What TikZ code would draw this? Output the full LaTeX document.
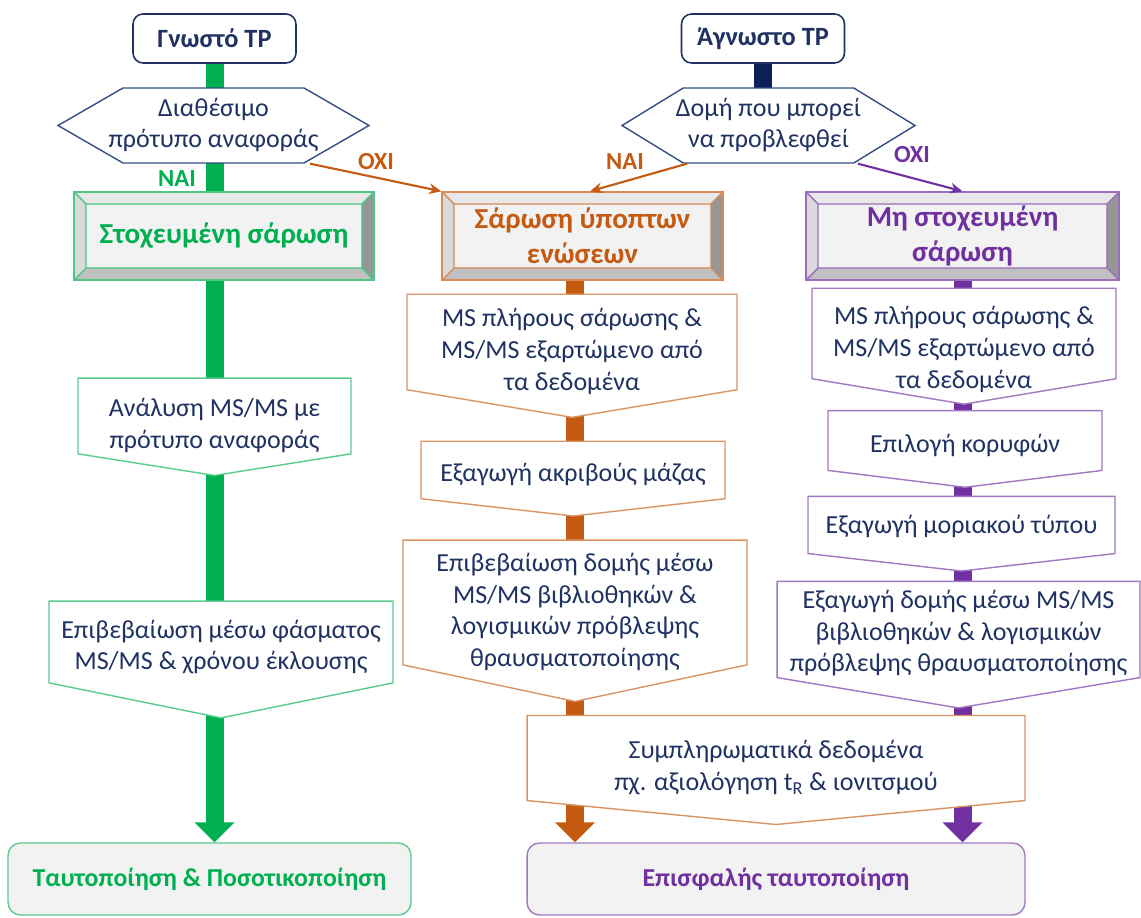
\documentclass[tikz,border=0pt]{standalone}
\usepackage{fontspec}
\setmainfont{Carlito}
\usepackage{xcolor}
\usetikzlibrary{arrows.meta, shapes.symbols, backgrounds}

\definecolor{navy}{RGB}{31,50,99}
\definecolor{navyline}{RGB}{52,78,135}
\definecolor{navybar}{RGB}{14,32,88}
\definecolor{grn}{RGB}{0,176,80}
\definecolor{orng}{RGB}{197,90,17}
\definecolor{prpl}{RGB}{112,48,160}
\definecolor{boxgray}{RGB}{242,242,242}
\definecolor{bvtop}{RGB}{232,232,232}
\definecolor{bvleft}{RGB}{218,218,218}
\definecolor{bvright}{RGB}{150,150,150}
\definecolor{bvbottom}{RGB}{192,192,192}

% text lines that take no room in the shape (raise in cm)
\newcommand{\inbox}[2][0]{\raisebox{#1cm}[0pt][0pt]{\begin{tabular}{@{}c@{}}#2\end{tabular}}}

\tikzset{
  tpbox/.style={draw=navy, line width=0.9pt, rounded corners=0.2cm, fill=white,
    minimum width=3.26cm, minimum height=0.98cm, text=navy,
    font=\fontsize{15}{18}\selectfont\bfseries},
  question/.style={signal, signal to=east and west, signal pointer angle=60,
    draw=navyline, line width=0.8pt, fill=white, minimum height=1.42cm,
    text=navy, font=\fontsize{14.8}{18}\selectfont},
  scanbox/.style={draw=#1!70, line width=0.8pt, fill=boxgray, minimum height=1.76cm,
    align=center, text=#1, font=\fontsize{16.5}{20}\selectfont\bfseries,
    path picture={
      \path (path picture bounding box.south west) coordinate (bsw)
            (path picture bounding box.north east) coordinate (bne)
            (path picture bounding box.north west) coordinate (bnw)
            (path picture bounding box.south east) coordinate (bse);
      \fill[bvtop] (bnw) -- (bne) -- ([shift={(-0.24cm,-0.24cm)}]bne) -- ([shift={(0.24cm,-0.24cm)}]bnw) -- cycle;
      \fill[bvleft] (bnw) -- (bsw) -- ([shift={(0.24cm,0.24cm)}]bsw) -- ([shift={(0.24cm,-0.24cm)}]bnw) -- cycle;
      \fill[bvright] (bne) -- (bse) -- ([shift={(-0.24cm,0.24cm)}]bse) -- ([shift={(-0.24cm,-0.24cm)}]bne) -- cycle;
      \fill[bvbottom] (bsw) -- (bse) -- ([shift={(-0.24cm,0.24cm)}]bse) -- ([shift={(0.24cm,0.24cm)}]bsw) -- cycle;
      \draw[#1!70, line width=0.8pt] ([shift={(0.24cm,0.24cm)}]bsw) rectangle ([shift={(-0.24cm,-0.24cm)}]bne)
        (bsw) -- ++(0.24cm,0.24cm) (bse) -- ++(-0.24cm,0.24cm)
        (bne) -- ++(-0.24cm,-0.24cm) (bnw) -- ++(0.24cm,-0.24cm);
    }},
  stepbox/.style={signal, signal to=south, draw=#1!65, line width=0.8pt, fill=white,
    text=navy, inner sep=2pt, font=\fontsize{14.8}{18}\selectfont},
  endbox/.style={draw=#1!65, line width=0.8pt, rounded corners=0.25cm, fill=boxgray,
    minimum height=1.44cm, text=#1, font=\fontsize{14.7}{18}\selectfont\bfseries},
  bar/.style={line width=0.36cm, draw=#1},
  bigtip/.style={-{Triangle[width=0.78cm,length=0.4cm]}},
  choice/.style={draw=#1, line width=1.2pt, -{Stealth[length=7pt,width=6pt]}},
  answer/.style={text=#1, font=\fontsize{14}{16}\selectfont\bfseries},
}

\begin{document}
\begin{tikzpicture}[x=0.02cm, y=-0.02cm]
	\useasboundingbox (0,0) rectangle (1141,918);
	% Start and questions:
	\node[tpbox] (gtp) at (214.5,38.5) {Γνωστό TP};
	\node[tpbox] (atp) at (763,38.5) {Άγνωστο TP};
	\node[question, minimum width=6.22cm] (hex1) at (213.5,125.5) {\makebox[0pt]{\begin{tabular}{@{}c@{}}Διαθέσιμο\\πρότυπο αναφοράς\end{tabular}}};
	\node[question, minimum width=5.86cm, signal pointer angle=63] (hex2) at (768.5,125.5) {\makebox[0pt]{\begin{tabular}{@{}c@{}}Δομή που μπορεί\\να προβλεφθεί\end{tabular}}};
	% Scan types:
	\node[scanbox=grn, minimum width=6cm] (gsc) at (224,236) {Στοχευμένη σάρωση};
	\node[scanbox=orng, minimum width=5.62cm] (osc) at (582.5,236) {Σάρωση ύποπτων\\ενώσεων};
	\node[scanbox=prpl, minimum width=6.26cm] (psc) at (962.5,236) {Μη στοχευμένη\\σάρωση};
	% Green steps:
	\node[stepbox=grn, minimum width=5.46cm, minimum height=1.86cm, signal pointer angle=162] (g1) at (214.5,416) {\inbox[-0.33]{Ανάλυση MS/MS με\\πρότυπο αναφοράς}};
	\node[stepbox=grn, minimum width=6.88cm, minimum height=2.3cm, signal pointer angle=157] (g2) at (221,642) {\inbox[-0.24]{Επιβεβαίωση μέσω φάσματος\\MS/MS \& χρόνου έκλουσης}};
	% Orange steps:
	\node[stepbox=orng, minimum width=6.6cm, minimum height=2.36cm, signal pointer angle=161] (o1) at (572,342) {\inbox[-0.33]{MS πλήρους σάρωσης \&\\MS/MS εξαρτώμενο από\\τα δεδομένα}};
	\node[stepbox=orng, minimum width=6.08cm, minimum height=1.46cm, signal pointer angle=167] (o2) at (573,470) {\inbox[-0.23]{Εξαγωγή ακριβούς μάζας}};
	\node[stepbox=orng, minimum width=6.88cm, minimum height=3.1cm, signal pointer angle=156] (o3) at (575,602.5) {\inbox[-0.33]{Επιβεβαίωση δομής μέσω\\MS/MS βιβλιοθηκών \&\\λογισμικών πρόβλεψης\\θραυσματοποίησης}};
	% Purple steps:
	\node[stepbox=prpl, minimum width=6.08cm, minimum height=2.26cm, signal pointer angle=161] (p1) at (964,333.5) {\inbox[-0.46]{MS πλήρους σάρωσης \&\\MS/MS εξαρτώμενο από\\τα δεδομένα}};
	\node[stepbox=prpl, minimum width=5.48cm, minimum height=1.44cm, signal pointer angle=166] (p2) at (965,440.5) {\inbox[-0.24]{Επιλογή κορυφών}};
	\node[stepbox=prpl, minimum width=6.14cm, minimum height=1.46cm, signal pointer angle=167] (p3) at (961.5,525) {\inbox[-0.17]{Εξαγωγή μοριακού τύπου}};
	\node[stepbox=prpl, minimum width=7.26cm, minimum height=2.5cm, signal pointer angle=161] (p4) at (958.5,629.5) {\inbox[-0.21]{Εξαγωγή δομής μέσω MS/MS\\βιβλιοθηκών \& λογισμικών\\πρόβλεψης θραυσματοποίησης}};
	\node[stepbox=orng, minimum width=9.96cm, minimum height=2.02cm, signal pointer angle=169] (cmb) at (776,758) {\inbox[-0.33]{Συμπληρωματικά δεδομένα\\πχ. αξιολόγηση t\textsubscript{R} \& ιονιτσμού}};
	% Results:
	\node[endbox=grn, minimum width=8.06cm] (fin1) at (209.5,879) {Ταυτοποίηση \& Ποσοτικοποίηση};
	\node[endbox=prpl, minimum width=9.96cm] (fin2) at (776,879) {Επισφαλής ταυτοποίηση};
	% Thick flow bars:
	\begin{scope}[on background layer]
		\draw[bar=grn, bigtip] (gtp) -- (gtp |- fin1.north);
		\draw[bar=navybar] (atp) -- (atp |- hex2);
		\draw[bar=orng, bigtip] (o3 |- osc) -- (o3 |- fin2.north);
		\draw[bar=prpl, bigtip] (psc) -- (psc |- fin2.north);
	\end{scope}
	% Decisions:
	\draw[choice=orng] ([xshift=1.93cm]hex1.south) -- (osc.north west);
	\draw[choice=orng] ([xshift=-1.63cm]hex2.south) -- ([xshift=0.15cm]osc.north);
	\draw[choice=prpl] ([xshift=1.79cm]hex2.south) -- (psc.north);
	\node[answer=grn] (nai1) at (177,179) {ΝΑΙ};
	\node[answer=orng] (oxi1) at (376,162) {ΟΧΙ};
	\node[answer=orng] (nai2) at (625,162) {ΝΑΙ};
	\node[answer=prpl] (oxi2) at (912,155) {ΟΧΙ};
\end{tikzpicture}
\end{document}
